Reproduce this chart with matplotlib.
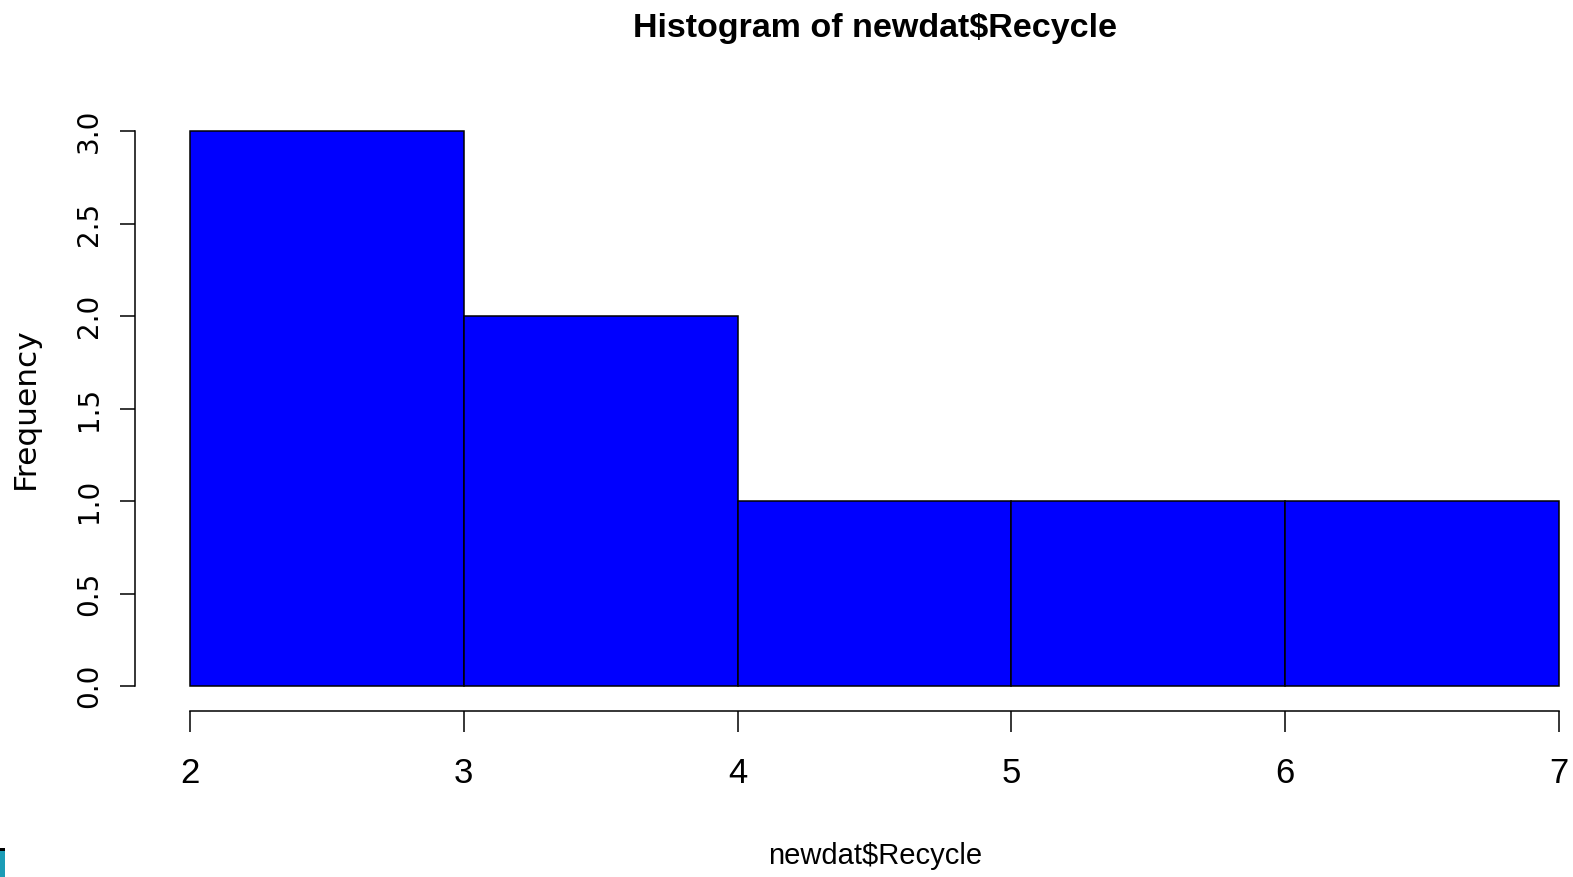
import matplotlib.pyplot as plt
from matplotlib.patches import Rectangle

# histogram bins and counts of newdat$Recycle
breaks = [2, 3, 4, 5, 6, 7]
counts = [3, 2, 1, 1, 1]
y_ticks = [0.0, 0.5, 1.0, 1.5, 2.0, 2.5, 3.0]

W, H = 1573, 877
narrow = ["Liberation Sans Narrow", "Liberation Sans", "DejaVu Sans"]

fig = plt.figure(figsize=(W / 100, H / 100), dpi=100)
ax = fig.add_axes([190 / W, (H - 686) / H, (1559 - 190) / W, (686 - 131) / H])

widths = [b - a for a, b in zip(breaks[:-1], breaks[1:])]
ax.bar(breaks[:-1], counts, width=widths, align="edge",
       color="#0000ff", edgecolor="black", linewidth=1.1, clip_on=False)

ax.set_xlim(breaks[0], breaks[-1])
ax.set_ylim(0, max(counts))

# R style detached axes
for s in ["top", "right"]:
    ax.spines[s].set_visible(False)
ax.spines["left"].set_position(("outward", 55 * 0.72))
ax.spines["bottom"].set_position(("outward", 25 * 0.72))
ax.spines["left"].set_bounds(0, 3)
ax.spines["bottom"].set_bounds(breaks[0], breaks[-1])
for s in ["left", "bottom"]:
    ax.spines[s].set_linewidth(1.1)

ax.set_xticks(breaks)
ax.set_xticklabels([str(b) for b in breaks], family=narrow, fontsize=25)
ax.set_yticks(y_ticks)
ax.set_yticklabels([f"{v:.1f}" for v in y_ticks], family="DejaVu Sans",
                   fontsize=20, rotation=90, va="center")
ax.tick_params(axis="x", length=15, width=1.1, pad=18)
ax.tick_params(axis="y", length=11, width=1.1, pad=12)

fig.text(875 / W, 1 - 28 / H, "Histogram of newdat$Recycle", family=narrow,
         fontsize=24.5, fontweight="bold", ha="center", va="center")
fig.text(875 / W, 1 - 856 / H, "newdat$Recycle", family=narrow,
         fontsize=21, ha="center", va="center")
fig.text(25 / W, 1 - 408 / H, "Frequency", family="DejaVu Sans",
         fontsize=22.5, rotation=90, ha="center", va="center")

# small teal corner mark
fig.patches.append(Rectangle((0, 0), 5 / W, 26 / H, transform=fig.transFigure,
                             facecolor="#1b9cb6", edgecolor="none"))
fig.patches.append(Rectangle((0, 26 / H), 5 / W, 3 / H, transform=fig.transFigure,
                             facecolor="black", edgecolor="none"))

fig.savefig("out.png", dpi=100)
